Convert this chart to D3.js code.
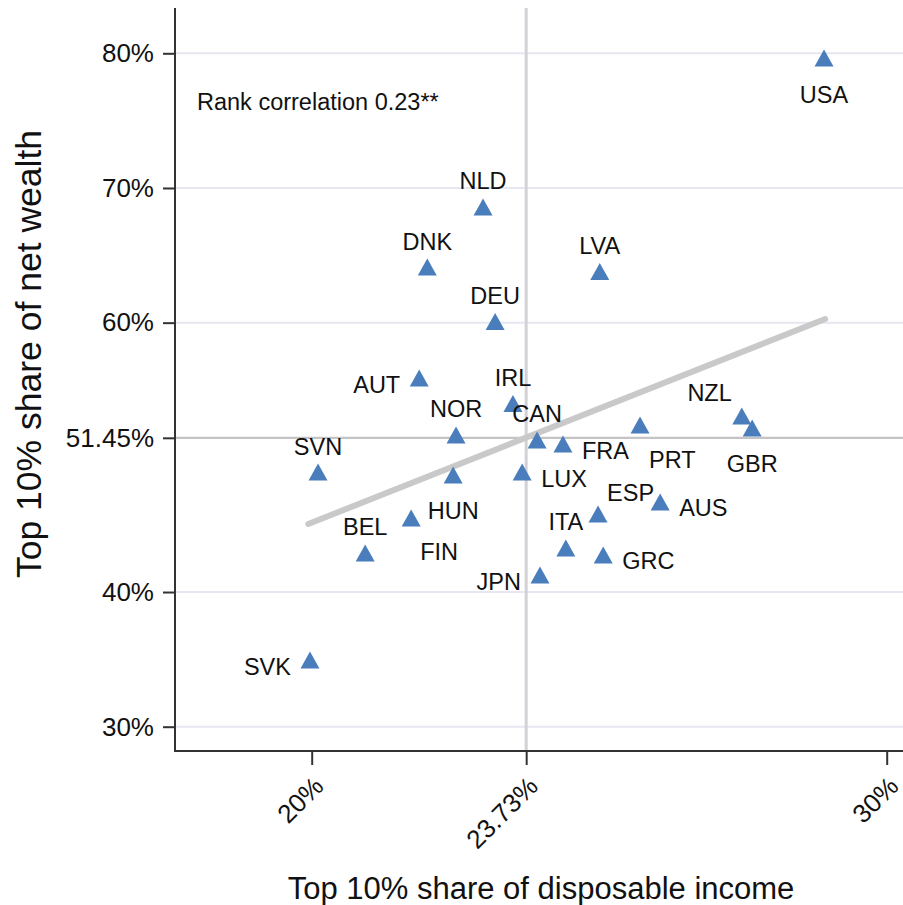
<!DOCTYPE html>
<html><head><meta charset="utf-8">
<script src="https://cdn.jsdelivr.net/npm/d3@7"></script>
<style>
html,body{margin:0;padding:0;background:#fff;}
svg{display:block;font-family:"Liberation Sans",Arial,Helvetica,sans-serif;}
</style></head>
<body><svg id="chart" width="903" height="905"></svg>
<script>
// ---- data ----
const countries = ["USA","NLD","DNK","LVA","DEU","AUT","IRL","NZL","GBR","PRT","CAN","FRA","NOR","SVN","HUN","LUX","FIN","AUS","ESP","BEL","ITA","GRC","JPN","SVK"];
const incomeShare = [28.91,22.98,22.01,25.01,23.19,21.87,23.50,27.48,27.66,25.71,23.92,24.37,22.51,20.11,22.46,23.66,21.73,26.06,24.98,20.93,24.42,25.07,23.97,19.97];
const wealthShare = [79.65,68.59,64.13,63.80,60.09,55.89,54.00,53.07,52.18,52.40,51.29,50.99,51.66,48.91,48.69,48.91,45.50,46.69,45.79,42.90,43.27,42.75,41.26,34.95];
// label clock positions (as in Stata mlabvposition)
const labelClock = [6,12,12,12,12,9,12,11,6,4,12,3,12,12,6,3,4,3,1,12,12,3,9,9];
const fitIncome = [19.94, 28.93];
const fitWealth = [45.05, 60.27];
const xTicks = [20, 23.73, 30];
const xTickLabels = ["20%","23.73%","30%"];
const yTicks = [30, 40, 51.45, 60, 70, 80];
const yTickLabels = ["30%","40%","51.45%","60%","70%","80%"];
const meanIncome = 23.73, meanWealth = 51.45;
const annotation = "Rank correlation 0.23**";
const xTitle = "Top 10% share of disposable income";
const yTitle = "Top 10% share of net wealth";

// ---- layout ----
const svg = d3.select("#chart");
const plotL = 175, plotR = 903, plotT = 8, plotB = 751;
const x = d3.scaleLinear().domain([20, 30]).range([311.7, 886.7]);
const y = d3.scaleLinear().domain([30, 80]).range([726.7, 53.3]);
const blue = "#4a7dbb";
const font = '"Liberation Sans",Arial,sans-serif';

// gridlines
svg.append("g").selectAll("line").data(yTicks.filter(v => v !== meanWealth)).join("line")
  .attr("x1", plotL).attr("x2", plotR).attr("y1", d => y(d)).attr("y2", d => y(d))
  .attr("stroke", "#e6e7f0").attr("stroke-width", 2);

// reference lines
svg.append("line").attr("x1", plotL).attr("x2", plotR)
  .attr("y1", y(meanWealth)).attr("y2", y(meanWealth))
  .attr("stroke", "#c4c4c6").attr("stroke-width", 2.2);
svg.append("line").attr("x1", x(meanIncome)).attr("x2", x(meanIncome))
  .attr("y1", plotT).attr("y2", plotB)
  .attr("stroke", "#d2d2d6").attr("stroke-width", 3);

// fit line
svg.append("path")
  .datum(fitIncome.map((v, i) => [v, fitWealth[i]]))
  .attr("d", d3.line().x(d => x(d[0])).y(d => y(d[1])))
  .attr("stroke", "#c9c9c9").attr("stroke-width", 6).attr("fill", "none")
  .attr("stroke-linecap", "round");

// axes
const yAxis = d3.axisLeft(y).tickValues(yTicks).tickFormat((d, i) => yTickLabels[i]).tickSize(12).tickPadding(9);
const gy = svg.append("g").attr("transform", `translate(${plotL},0)`).call(yAxis);
gy.select(".domain").remove();
gy.selectAll(".tick line").attr("stroke", "#333").attr("stroke-width", 2);
gy.selectAll(".tick text").attr("font-size", 26).attr("fill", "#111")
  .attr("font-family", font);

const xAxis = d3.axisBottom(x).tickValues(xTicks).tickFormat((d, i) => xTickLabels[i]).tickSize(14);
const gx = svg.append("g").attr("transform", `translate(0,${plotB})`).call(xAxis);
gx.select(".domain").remove();
gx.selectAll(".tick line").attr("stroke", "#333").attr("stroke-width", 2);
gx.selectAll(".tick text").attr("font-size", 26).attr("fill", "#111")
  .attr("font-family", font)
  .attr("text-anchor", "end").attr("dy", null).attr("y", null)
  .attr("transform", "translate(8,32) rotate(-45)")
  .attr("dominant-baseline", "middle");

// frame lines
svg.append("line").attr("x1", plotL).attr("x2", plotL).attr("y1", plotT).attr("y2", plotB + 1)
  .attr("stroke", "#333").attr("stroke-width", 2);
svg.append("line").attr("x1", plotL - 1).attr("x2", plotR).attr("y1", plotB).attr("y2", plotB)
  .attr("stroke", "#333").attr("stroke-width", 2);

// markers
const tri = { draw(ctx, size) { const w = 19, h = 17; ctx.moveTo(0, -h/2); ctx.lineTo(w/2, h/2); ctx.lineTo(-w/2, h/2); ctx.closePath(); } };
svg.append("g").selectAll("path").data(countries).join("path")
  .attr("d", d3.symbol().type(tri).size(1))
  .attr("transform", (d, i) => `translate(${x(incomeShare[i])},${y(wealthShare[i])})`)
  .attr("fill", blue);

// labels
const off = {
  12: {a: "middle", dx: 0, dy: -26},
  6:  {a: "middle", dx: 0, dy: 36},
  3:  {a: "start", dx: 19, dy: 6},
  9:  {a: "end", dx: -19, dy: 6},
  4:  {a: "start", dx: 9, dy: 34},
  1:  {a: "start", dx: 9, dy: -22},
  11: {a: "end", dx: -10, dy: -23}
};
svg.append("g").selectAll("text").data(countries).join("text")
  .attr("x", (d, i) => x(incomeShare[i]) + off[labelClock[i]].dx)
  .attr("y", (d, i) => y(wealthShare[i]) + off[labelClock[i]].dy + 8.5)
  .attr("text-anchor", (d, i) => off[labelClock[i]].a)
  .attr("font-size", 23.5).attr("fill", "#111")
  .text(d => d);

// annotation
svg.append("text").attr("x", plotL + 22).attr("y", 110)
  .attr("font-size", 23.5).attr("fill", "#111").text(annotation);

// axis titles
svg.append("text").attr("x", 541).attr("y", 899).attr("text-anchor", "middle")
  .attr("font-size", 31).attr("fill", "#111").text(xTitle);
svg.append("text").attr("transform", "translate(41,354) rotate(-90)").attr("text-anchor", "middle")
  .attr("font-size", 35.5).attr("fill", "#111").text(yTitle);
</script></body></html>
